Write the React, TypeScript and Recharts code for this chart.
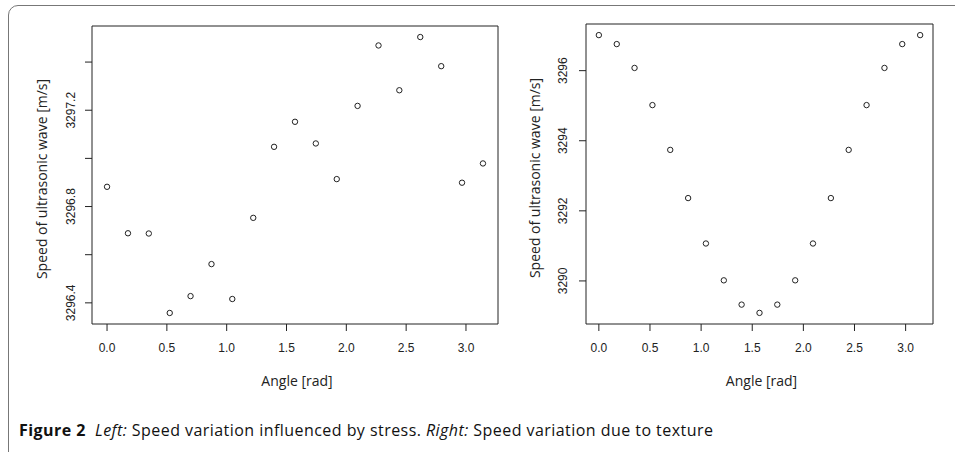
import React from "react";
import { ScatterChart, Scatter, XAxis, YAxis, ReferenceArea, Label } from "recharts";

// angle of each measurement [rad]
const angles = [
  0, 0.175, 0.349, 0.524, 0.698, 0.873, 1.047, 1.222, 1.396, 1.571, 1.745, 1.92,
  2.094, 2.269, 2.443, 2.618, 2.793, 2.967, 3.142,
];

// left panel: speed variation influenced by stress
const stressSpeed = [
  3296.882, 3296.689, 3296.688, 3296.358, 3296.428, 3296.561, 3296.416, 3296.753,
  3297.048, 3297.152, 3297.062, 3296.914, 3297.218, 3297.469, 3297.283, 3297.504,
  3297.383, 3296.899, 3296.979,
];

// right panel: speed variation due to texture
const textureSpeed = [
  3297.014, 3296.758, 3296.077, 3295.017, 3293.739, 3292.364, 3291.068, 3290.017,
  3289.324, 3289.088, 3289.324, 3290.017, 3291.068, 3292.364, 3293.739, 3295.017,
  3296.077, 3296.758, 3297.014,
];

const angleTicks = [0, 0.5, 1, 1.5, 2, 2.5, 3];
const angleTickLabels = ["0.0", "0.5", "1.0", "1.5", "2.0", "2.5", "3.0"];
const stressTicks = [3296.4, 3296.6, 3296.8, 3297.0, 3297.2, 3297.4];
const stressTickLabels = ["3296.4", "", "3296.8", "", "3297.2", ""];
const textureTicks = [3290, 3292, 3294, 3296];
const textureTickLabels = ["3290", "3292", "3294", "3296"];

const X_TITLE = "Angle [rad]";
const Y_TITLE = "Speed of ultrasonic wave [m/s]";

const TICK_FONT = "'Liberation Sans', Arial, sans-serif";
const TITLE_FONT = "'Open Sans', 'Noto Sans', sans-serif";
const INK = "#222";

// R-style range: 4% padding on each side
const padRange = (vals: number[]): [number, number] => {
  const lo = Math.min(...vals);
  const hi = Math.max(...vals);
  const p = (hi - lo) * 0.04;
  return [lo - p, hi + p];
};

const xDomain = padRange(angles);

interface PanelProps {
  left: number;
  width: number;
  top: number;
  right: number;
  yAxisWidth: number;
  values: number[];
  yTicks: number[];
  yTickLabels: string[];
  yLabelX: number;
  yTitleX: number;
}

const Panel: React.FC<PanelProps> = ({
  left,
  width,
  top,
  right,
  yAxisWidth,
  values,
  yTicks,
  yTickLabels,
  yLabelX,
  yTitleX,
}) => {
  const data = angles.map((a, i) => ({ x: a, y: values[i] }));
  const yDomain = padRange(values);

  // eslint-disable-next-line @typescript-eslint/no-explicit-any
  const XTick = ({ x, y, payload }: any) => {
    const i = angleTicks.indexOf(payload.value);
    return (
      <text x={x} y={y + 19} textAnchor="middle" fontFamily={TICK_FONT} fontSize={12} fill={INK}>
        {angleTickLabels[i]}
      </text>
    );
  };

  // eslint-disable-next-line @typescript-eslint/no-explicit-any
  const YTick = ({ y, payload }: any) => {
    const i = yTicks.indexOf(payload.value);
    const label = yTickLabels[i];
    if (!label) return <g />;
    return (
      <text
        x={yLabelX}
        y={y}
        transform={`rotate(-90 ${yLabelX} ${y})`}
        textAnchor="middle"
        fontFamily={TICK_FONT}
        fontSize={12}
        fill={INK}
      >
        {label}
      </text>
    );
  };

  return (
    <div style={{ position: "absolute", left, top: 0 }}>
      <ScatterChart width={width} height={400} margin={{ top, right, bottom: 0, left: 0 }}>
        <XAxis
          dataKey="x"
          type="number"
          domain={xDomain}
          allowDataOverflow
          ticks={angleTicks}
          interval={0}
          axisLine={false}
          tickLine={{ stroke: INK }}
          tickSize={7}
          tick={<XTick />}
          height={76}
        >
          <Label
            // eslint-disable-next-line @typescript-eslint/no-explicit-any
            content={(p: any) => {
              const vb = p.viewBox || {};
              return (
                <text
                  x={vb.x + vb.width / 2 + 2}
                  y={vb.y + 62}
                  textAnchor="middle"
                  fontFamily={TITLE_FONT}
                  fontSize={14}
                  fill={INK}
                >
                  {X_TITLE}
                </text>
              );
            }}
          />
        </XAxis>
        <YAxis
          dataKey="y"
          type="number"
          domain={yDomain}
          allowDataOverflow
          ticks={yTicks}
          interval={0}
          axisLine={false}
          tickLine={{ stroke: INK }}
          tickSize={7}
          tick={<YTick />}
          width={yAxisWidth}
        >
          <Label
            // eslint-disable-next-line @typescript-eslint/no-explicit-any
            content={(p: any) => {
              const vb = p.viewBox || {};
              const cy = vb.y + vb.height / 2 + 4;
              return (
                <text
                  x={yTitleX}
                  y={cy}
                  transform={`rotate(-90 ${yTitleX} ${cy})`}
                  textAnchor="middle"
                  fontFamily={TITLE_FONT}
                  fontSize={14}
                  fill={INK}
                >
                  {Y_TITLE}
                </text>
              );
            }}
          />
        </YAxis>
        <ReferenceArea
          x1={xDomain[0]}
          x2={xDomain[1]}
          y1={yDomain[0]}
          y2={yDomain[1]}
          fill="none"
          stroke={INK}
          strokeWidth={1}
          ifOverflow="visible"
        />
        <Scatter
          data={data}
          isAnimationActive={false}
          // eslint-disable-next-line @typescript-eslint/no-explicit-any
          shape={(p: any) => (
            <circle cx={p.cx} cy={p.cy} r={2.7} fill="none" stroke={INK} strokeWidth={1} />
          )}
        />
      </ScatterChart>
    </div>
  );
};

const App: React.FC = () => {
  return (
    <div
      style={{
        position: "absolute",
        left: 0,
        top: 0,
        width: 955,
        height: 452,
        overflow: "hidden",
        background: "#fff",
      }}
    >
      <div
        style={{
          position: "absolute",
          left: 8,
          top: 5,
          width: 1000,
          height: 455,
          border: "1px solid #777",
          borderRadius: 10,
        }}
      />
      <Panel
        left={0}
        width={510}
        top={26}
        right={12}
        yAxisWidth={92}
        values={stressSpeed}
        yTicks={stressTicks}
        yTickLabels={stressTickLabels}
        yLabelX={75}
        yTitleX={47}
      />
      <Panel
        left={480}
        width={475}
        top={24}
        right={22}
        yAxisWidth={106}
        values={textureSpeed}
        yTicks={textureTicks}
        yTickLabels={textureTickLabels}
        yLabelX={87}
        yTitleX={60}
      />
      <div
        style={{
          position: "absolute",
          left: 19,
          top: 419,
          fontFamily: "'Open Sans', 'Noto Sans', sans-serif",
          fontSize: 16,
          letterSpacing: 0.45,
          color: "#111",
          whiteSpace: "nowrap",
        }}
      >
        <b>Figure 2</b>&nbsp;&nbsp;<i>Left:</i> Speed variation influenced by stress.{" "}
        <i>Right:</i> Speed variation due to texture
      </div>
    </div>
  );
};

export default App;
